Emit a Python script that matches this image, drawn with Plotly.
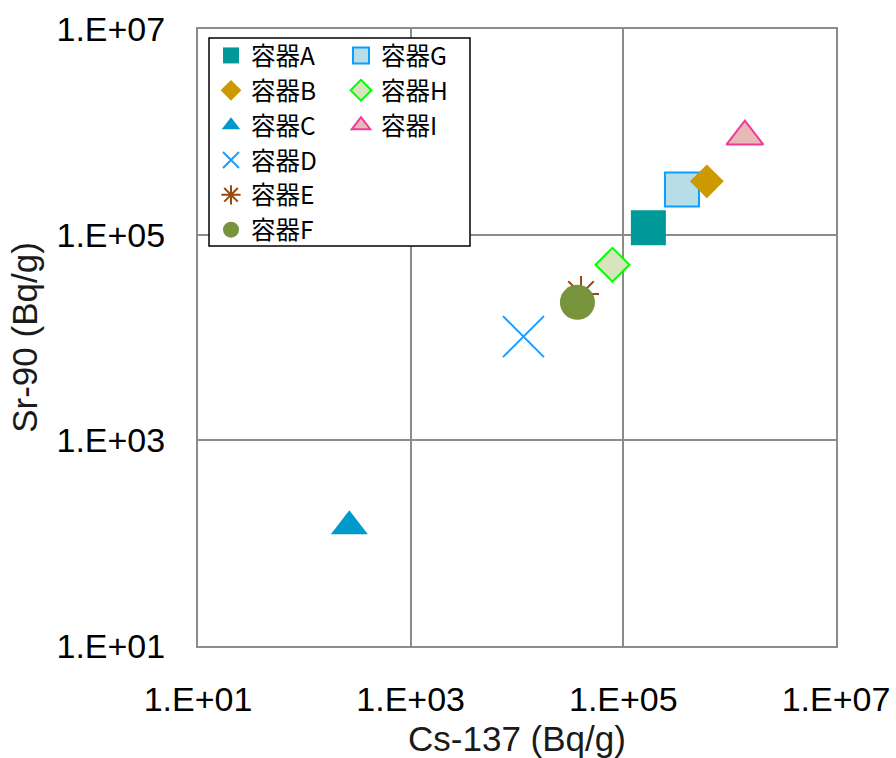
import plotly.graph_objects as go

# Measured activities per container (Bq/g)
containers = ["容器A", "容器B", "容器C", "容器D", "容器E", "容器F", "容器G", "容器H", "容器I"]
cs137 = [1.72e5, 6.1e5, 265, 1.15e4, 4.0e4, 3.7e4, 3.56e5, 7.9e4, 1.39e6]
sr90 = [1.17e5, 3.3e5, 146, 1.02e4, 2.65e4, 2.2e4, 2.75e5, 5.1e4, 9.0e5]

tick_vals = [1e1, 1e3, 1e5, 1e7]
tick_text = ["1.E+01", "1.E+03", "1.E+05", "1.E+07"]

# Marker style per container: symbol, size, fill, outline, outline width, legend
styles = {
    "容器A": dict(symbol="square", size=35, color="#009999", line="#009999", lw=0, legend="legend"),
    "容器B": dict(symbol="diamond", size=26, color="#CC9900", line="#CC9900", lw=0, legend="legend"),
    "容器C": dict(symbol="triangle-up", size=32, color="#0099CC", line="#0099CC", lw=0, legend="legend"),
    "容器D": dict(symbol="x-thin-open", size=41, color="#1E9BFF", line="#1E9BFF", lw=2, legend="legend"),
    "容器E": dict(symbol="asterisk-open", size=30, color="#9A4A0E", line="#9A4A0E", lw=2, legend="legend"),
    "容器F": dict(symbol="circle", size=35, color="#77933C", line="#77933C", lw=0, legend="legend"),
    "容器G": dict(symbol="square", size=34, color="#B7DDE8", line="#0AA0FF", lw=2, legend="legend2"),
    "容器H": dict(symbol="diamond", size=26, color="#D7E4BD", line="#00FF00", lw=2, legend="legend2"),
    "容器I": dict(symbol="triangle-up", size=32, color="#E6B9B8", line="#F03C96", lw=2, legend="legend2"),
}

# Drawing order (B sits on top of G)
draw_order = ["容器A", "容器G", "容器B", "容器C", "容器D", "容器E", "容器F", "容器H", "容器I"]

fig = go.Figure()
for name in draw_order:
    i = containers.index(name)
    s = styles[name]
    fig.add_trace(go.Scatter(
        x=[cs137[i]], y=[sr90[i]], mode="markers", name=name,
        legend=s["legend"],
        marker=dict(symbol=s["symbol"], size=s["size"], color=s["color"],
                    line=dict(color=s["line"], width=s["lw"])),
    ))

W, H = 896, 758
L, R, T, B = 198, 60, 29, 112
pw, ph = W - L - R, H - T - B


def px_x(p):
    return (p - L) / pw


def px_y(p):
    return 1 - (p - T) / ph


axis_common = dict(
    type="log", range=[1, 7], tickvals=tick_vals, ticktext=tick_text,
    showgrid=True, gridcolor="#8C8C8C", gridwidth=1.5,
    showline=True, linecolor="#8C8C8C", linewidth=2, mirror=True,
    ticks="", zeroline=False, automargin=False,
    tickfont=dict(family="Liberation Sans, Arial", size=34, color="black"),
)

legend_font = dict(family="Noto Sans CJK JP", size=24.5, color="black")

fig.update_layout(
    width=W, height=H, autosize=False,
    margin=dict(l=L, r=R, t=T, b=B),
    paper_bgcolor="white", plot_bgcolor="white",
    xaxis=dict(**axis_common, ticklabelstandoff=22,
               title=dict(text="Cs-137 (Bq/g)", standoff=11,
                          font=dict(family="Liberation Sans, Arial", size=35, color="#1a1a1a"))),
    yaxis=dict(**axis_common, ticklabelstandoff=24,
               title=dict(text="Sr-90 (Bq/g)", standoff=8,
                          font=dict(family="Liberation Sans, Arial", size=35, color="#1a1a1a"))),
    legend=dict(x=px_x(211), y=px_y(33), xanchor="left", yanchor="top",
                bgcolor="rgba(0,0,0,0)", borderwidth=0, font=legend_font,
                tracegroupgap=0, itemsizing="trace"),
    legend2=dict(x=px_x(341), y=px_y(33), xanchor="left", yanchor="top",
                 bgcolor="rgba(0,0,0,0)", borderwidth=0, font=legend_font,
                 tracegroupgap=0, itemsizing="trace"),
    shapes=[dict(type="rect", xref="paper", yref="paper",
                 x0=px_x(209), x1=px_x(470), y0=px_y(246), y1=px_y(38),
                 fillcolor="white", line=dict(color="black", width=1.5),
                 layer="above")],
    showlegend=True,
)

fig.write_html("out.html")
